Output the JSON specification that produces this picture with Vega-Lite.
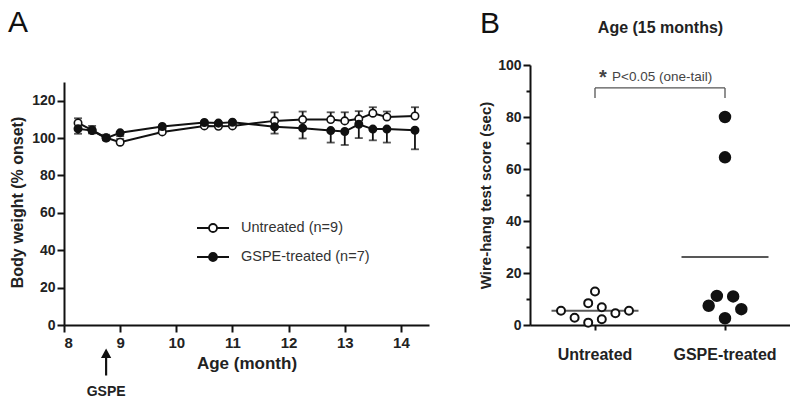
{
  "$schema": "https://vega.github.io/schema/vega-lite/v6.json",
  "padding": {"left": 8, "top": 8, "right": 0, "bottom": 0},
  "background": "white",
  "config": {
    "font": "Liberation Sans",
    "view": {"stroke": null},
    "axis": {"grid": false, "domainColor": "#111", "tickColor": "#111", "labelColor": "#222", "titleColor": "#222", "domainWidth": 2, "tickWidth": 2}
  },
  "datasets": {
    "weight": [
      {"month": 8.25, "group": "Untreated", "value": 108.1, "err": 110.6},
      {"month": 8.5, "group": "Untreated", "value": 104.3, "err": 106.5},
      {"month": 8.75, "group": "Untreated", "value": 100.2, "err": 101.8},
      {"month": 9.0, "group": "Untreated", "value": 97.8, "err": 99.5},
      {"month": 9.75, "group": "Untreated", "value": 103.3, "err": 105.0},
      {"month": 10.5, "group": "Untreated", "value": 106.5, "err": 108.8},
      {"month": 10.75, "group": "Untreated", "value": 106.3, "err": 108.5},
      {"month": 11.0, "group": "Untreated", "value": 106.5, "err": 109.0},
      {"month": 11.75, "group": "Untreated", "value": 109.2, "err": 113.8},
      {"month": 12.25, "group": "Untreated", "value": 109.9, "err": 114.2},
      {"month": 12.75, "group": "Untreated", "value": 109.9, "err": 113.8},
      {"month": 13.0, "group": "Untreated", "value": 109.2, "err": 113.8},
      {"month": 13.25, "group": "Untreated", "value": 110.3, "err": 114.4},
      {"month": 13.5, "group": "Untreated", "value": 113.3, "err": 116.5},
      {"month": 13.75, "group": "Untreated", "value": 111.3, "err": 114.2},
      {"month": 14.25, "group": "Untreated", "value": 111.8, "err": 116.5},
      {"month": 8.25, "group": "GSPE-treated", "value": 105.0, "err": 102.3},
      {"month": 8.5, "group": "GSPE-treated", "value": 104.0, "err": 102.5},
      {"month": 8.75, "group": "GSPE-treated", "value": 100.0, "err": 98.8},
      {"month": 9.0, "group": "GSPE-treated", "value": 102.8, "err": 101.0},
      {"month": 9.75, "group": "GSPE-treated", "value": 106.2, "err": 104.8},
      {"month": 10.5, "group": "GSPE-treated", "value": 108.3, "err": 106.5},
      {"month": 10.75, "group": "GSPE-treated", "value": 108.0, "err": 106.3},
      {"month": 11.0, "group": "GSPE-treated", "value": 108.5, "err": 106.8},
      {"month": 11.75, "group": "GSPE-treated", "value": 106.0, "err": 102.4},
      {"month": 12.25, "group": "GSPE-treated", "value": 105.3, "err": 99.8},
      {"month": 12.75, "group": "GSPE-treated", "value": 104.0, "err": 97.6},
      {"month": 13.0, "group": "GSPE-treated", "value": 103.5, "err": 96.3},
      {"month": 13.25, "group": "GSPE-treated", "value": 107.4, "err": 100.0},
      {"month": 13.5, "group": "GSPE-treated", "value": 104.8, "err": 98.8},
      {"month": 13.75, "group": "GSPE-treated", "value": 104.8, "err": 97.6},
      {"month": 14.25, "group": "GSPE-treated", "value": 104.2, "err": 94.0}
    ],
    "wire": [
      {"group": "Untreated", "slot": -5, "score": 5.5},
      {"group": "Untreated", "slot": -3, "score": 2.8},
      {"group": "Untreated", "slot": -1, "score": 8.4},
      {"group": "Untreated", "slot": -1, "score": 0.9},
      {"group": "Untreated", "slot": 0, "score": 12.9},
      {"group": "Untreated", "slot": 1, "score": 6.8},
      {"group": "Untreated", "slot": 1, "score": 2.2},
      {"group": "Untreated", "slot": 3, "score": 4.5},
      {"group": "Untreated", "slot": 5, "score": 5.5},
      {"group": "GSPE-treated", "slot": -2.4, "score": 7.4},
      {"group": "GSPE-treated", "slot": -1.2, "score": 11.2},
      {"group": "GSPE-treated", "slot": 1.2, "score": 11.0},
      {"group": "GSPE-treated", "slot": 2.4, "score": 6.1},
      {"group": "GSPE-treated", "slot": 0, "score": 2.6},
      {"group": "GSPE-treated", "slot": 0, "score": 80.0},
      {"group": "GSPE-treated", "slot": 0, "score": 64.5}
    ],
    "means": [
      {"group": "Untreated", "mean": 5.5},
      {"group": "GSPE-treated", "mean": 26.2}
    ]
  },
  "bounds": "flush",
  "spacing": 101,
  "resolve": {"scale": {"fill": "independent", "size": "independent"}, "legend": {"fill": "independent", "size": "independent"}},
  "hconcat": [
    {
      "width": 365,
      "height": 260,
      "title": {"text": "A", "anchor": "start", "frame": "group", "dx": -56, "offset": 3, "baseline": "alphabetic", "fontSize": 30, "fontWeight": "normal", "color": "#111"},
      "resolve": {"axis": {"x": "independent", "y": "independent"}},
      "layer": [
        {
          "data": {"name": "weight"},
          "mark": {"type": "line", "color": "#111", "strokeWidth": 2},
          "encoding": {
            "x": {"field": "month", "type": "quantitative", "scale": {"domain": [8, 14.5], "nice": false, "zero": false},
              "axis": {"values": [8, 8.5, 9, 9.5, 10, 10.5, 11, 11.5, 12, 12.5, 13, 13.5, 14, 14.5], "format": "d", "labelExpr": "datum.value % 1 === 0 ? datum.label : ''", "title": "Age (month)", "tickSize": 7, "labelFontSize": 15, "labelFontWeight": "bold", "labelPadding": 3, "titleFontSize": 17, "titleFontWeight": "bold", "titlePadding": 5}},
            "y": {"field": "value", "type": "quantitative", "scale": {"domain": [0, 130], "range": [260, 17], "nice": false},
              "axis": {"values": [0, 20, 40, 60, 80, 100, 120], "title": "Body weight (% onset)", "tickSize": 7, "labelFontSize": 14, "labelFontWeight": "bold", "labelPadding": 2, "titleFontSize": 16, "titleFontWeight": "bold", "titlePadding": 6, "titleY": 137}},
            "detail": {"field": "group"}
          }
        },
        {
          "data": {"name": "weight"},
          "mark": {"type": "rule", "color": "#111", "strokeWidth": 1.8},
          "encoding": {
            "x": {"field": "month", "type": "quantitative", "axis": null},
            "y": {"field": "value", "type": "quantitative", "axis": null},
            "y2": {"field": "err"}
          }
        },
        {
          "data": {"name": "weight"},
          "mark": {"type": "tick", "orient": "horizontal", "size": 8, "thickness": 1.8, "color": "#111"},
          "encoding": {
            "x": {"field": "month", "type": "quantitative", "axis": null},
            "y": {"field": "err", "type": "quantitative", "axis": null}
          }
        },
        {
          "data": {"name": "weight"},
          "mark": {"type": "point", "filled": true, "size": 55, "stroke": "#111", "strokeWidth": 1.6, "opacity": 1},
          "encoding": {
            "x": {"field": "month", "type": "quantitative", "axis": null},
            "y": {"field": "value", "type": "quantitative", "axis": null},
            "fill": {"field": "group", "type": "nominal", "scale": {"domain": ["Untreated", "GSPE-treated"], "range": ["white", "#111"]},
              "legend": {"orient": "none", "legendX": 140, "legendY": 154, "title": null, "symbolType": "M-2,0L-0.5,0M0.5,0L2,0M-0.5,0A0.5,0.5,0,1,1,0.5,0A0.5,0.5,0,1,1,-0.5,0Z", "symbolSize": 256, "symbolStrokeColor": "#111", "symbolStrokeWidth": 1.8, "symbolOpacity": 1, "labelFontSize": 14.5, "labelColor": "#333", "labelOffset": 19, "rowPadding": 12, "labelLimit": 300,
                "labelExpr": "datum.label == 'Untreated' ? 'Untreated (n=9)' : 'GSPE-treated (n=7)'"}}
          }
        },
        {
          "data": {"values": [{"month": 8.75, "label": "GSPE"}]},
          "mark": {"type": "point", "shape": "M0,-1L0.38,-0.3L0.08,-0.3L0.08,1L-0.08,1L-0.08,-0.3L-0.38,-0.3Z", "size": 729, "filled": true, "color": "#111", "opacity": 1, "yOffset": 37},
          "encoding": {
            "x": {"field": "month", "type": "quantitative", "axis": null},
            "y": {"datum": 0, "type": "quantitative", "axis": null}
          }
        },
        {
          "data": {"values": [{"month": 8.75, "label": "GSPE"}]},
          "mark": {"type": "text", "dy": 67, "fontSize": 14, "fontWeight": "bold", "color": "#222"},
          "encoding": {
            "x": {"field": "month", "type": "quantitative", "axis": null},
            "y": {"datum": 0, "type": "quantitative", "axis": null},
            "text": {"field": "label"}
          }
        }
      ]
    },
    {
      "width": 260,
      "height": 260,
      "title": {"text": "B", "anchor": "start", "frame": "group", "dx": -50, "offset": -44, "baseline": "alphabetic", "fontSize": 30, "fontWeight": "normal", "color": "#111"},
      "resolve": {"axis": {"x": "independent", "y": "independent"}},
      "layer": [
        {
          "data": {"name": "means"},
          "mark": {"type": "tick", "orient": "horizontal", "size": 87, "thickness": 2, "color": "#111"},
          "encoding": {
            "x": {"field": "group", "type": "nominal", "sort": null, "scale": {"type": "band", "domain": ["Untreated", "GSPE-treated"], "paddingInner": 0, "paddingOuter": 0},
              "axis": {"orient": "top", "title": "Age (15 months)", "labels": false, "ticks": false, "domain": false, "titleFontSize": 16, "titleFontWeight": "bold", "titlePadding": 30}},
            "y": {"field": "mean", "type": "quantitative", "axis": null, "scale": {"domain": [0, 100], "nice": false}}
          }
        },
        {
          "data": {"values": [{"group": "Untreated", "top": 91.2, "bottom": 87.3}, {"group": "GSPE-treated", "top": 91.2, "bottom": 87.3}]},
          "mark": {"type": "rule", "color": "#555", "strokeWidth": 1.3},
          "encoding": {
            "x": {"field": "group", "type": "nominal", "sort": null, "axis": null},
            "y": {"field": "top", "type": "quantitative", "axis": null},
            "y2": {"field": "bottom"}
          }
        },
        {
          "data": {"values": [{"from": "Untreated", "to": "GSPE-treated", "y": 91.2}]},
          "mark": {"type": "rule", "color": "#555", "strokeWidth": 1.3},
          "encoding": {
            "x": {"field": "from", "type": "nominal", "sort": null, "axis": null},
            "x2": {"field": "to"},
            "y": {"field": "y", "type": "quantitative", "axis": null}
          }
        },
        {
          "data": {"values": [{"group": "Untreated", "y": 93.8, "label": "*"}]},
          "mark": {"type": "text", "align": "left", "baseline": "alphabetic", "dx": 4, "dy": 3, "fontSize": 20, "fontWeight": "bold", "color": "#444"},
          "encoding": {
            "x": {"field": "group", "type": "nominal", "sort": null, "axis": null},
            "y": {"field": "y", "type": "quantitative", "axis": null},
            "text": {"field": "label"}
          }
        },
        {
          "data": {"values": [{"group": "Untreated", "y": 93.8, "label": "P<0.05 (one-tail)"}]},
          "mark": {"type": "text", "align": "left", "baseline": "alphabetic", "dx": 17, "fontSize": 13.5, "color": "#444"},
          "encoding": {
            "x": {"field": "group", "type": "nominal", "sort": null, "axis": null},
            "y": {"field": "y", "type": "quantitative", "axis": null},
            "text": {"field": "label"}
          }
        },
        {
          "data": {"name": "wire"},
          "mark": {"type": "point", "filled": true, "stroke": "#111", "strokeWidth": 2, "opacity": 1},
          "encoding": {
            "x": {"field": "group", "type": "nominal", "sort": null,
              "axis": {"orient": "bottom", "title": null, "labelAngle": 0, "tickSize": 5, "labelFontSize": 16, "labelFontWeight": "bold", "labelPadding": 16}},
            "xOffset": {"field": "slot", "type": "quantitative", "scale": {"domain": [-9.56, 9.56], "nice": false, "zero": false}},
            "y": {"field": "score", "type": "quantitative",
              "axis": {"values": [0, 10, 20, 30, 40, 50, 60, 70, 80, 90, 100], "labelExpr": "datum.value % 20 === 0 ? datum.label : ''", "tickSize": {"condition": {"test": "datum.value % 20 === 0", "value": 7}, "value": 4}, "title": "Wire-hang test score (sec)", "labelFontSize": 14, "labelFontWeight": "bold", "labelPadding": 2, "titleFontSize": 15, "titleFontWeight": "bold", "titlePadding": 4}},
            "fill": {"field": "group", "type": "nominal", "scale": {"domain": ["Untreated", "GSPE-treated"], "range": ["white", "#111"]}, "legend": null},
            "size": {"field": "group", "type": "nominal", "scale": {"domain": ["Untreated", "GSPE-treated"], "range": [64, 110]}, "legend": null}
          }
        }
      ]
    }
  ]
}
